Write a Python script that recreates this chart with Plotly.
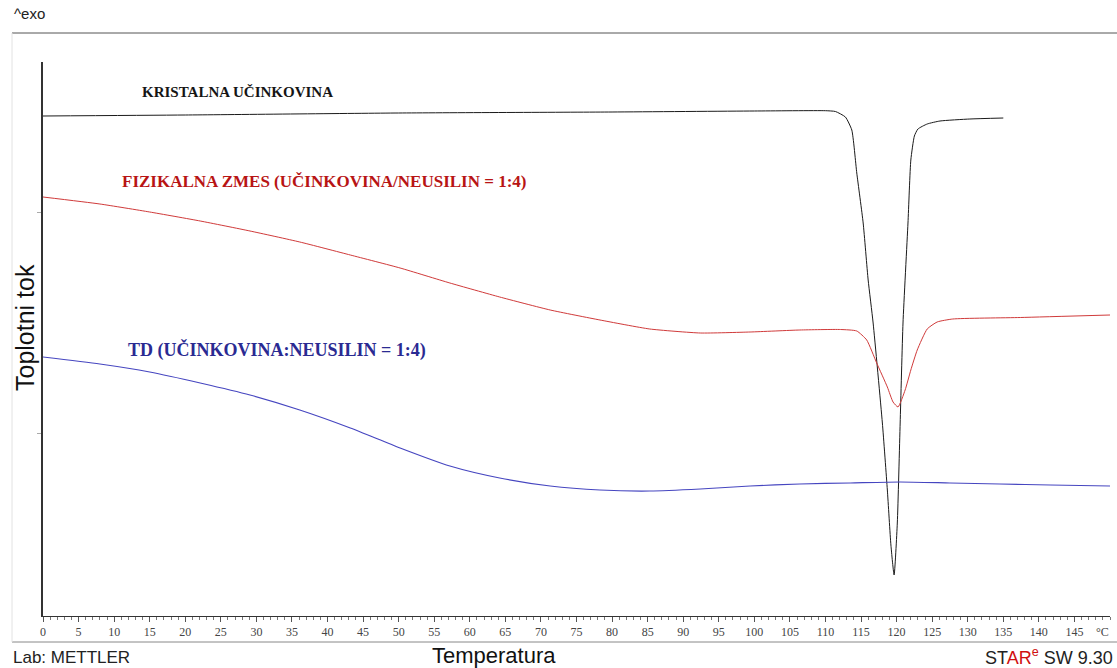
import plotly.graph_objects as go

# ---- data (temperature in °C, heat flow in arbitrary units) ----
t_kristal = [0, 20, 50, 80, 100, 110, 111.4, 112.8, 113.7, 114.4, 115.3, 116.0, 116.7, 118.0,
             118.7, 119.2, 119.65, 120.1, 120.5, 120.9, 121.6, 122.0, 122.5, 123.0, 124.3,
             126.1, 130.3, 135.0]
hf_kristal = [500, 501, 503, 504, 505, 505.3, 504.5, 499, 486, 443, 393, 336, 293, 193,
              126, 71, 41, 93, 193, 293, 393, 456, 480, 487, 492,
              495, 497, 498]

t_zmes = [0, 8.0, 15.0, 22.1, 29.1, 36.1, 43.2, 50.2, 57.2, 64.2, 71.3, 78.3, 85.3, 92.4,
          99.4, 106.4, 112.1, 114.4, 115.8, 117.2, 118.7, 119.5, 120.2, 121.2, 122.0, 122.9,
          124.3, 125.7, 127.9, 137.4, 150.0]
hf_zmes = [419, 412, 404, 395, 385, 374, 361, 348, 333, 319, 306, 296, 287, 283,
           284, 286, 286.5, 285, 276, 253, 229, 214, 209, 226, 246, 266,
           287, 294, 297, 298.5, 301]

t_td = [0, 8.0, 15.0, 22.1, 29.1, 36.1, 43.2, 50.2, 57.2, 64.2, 71.3, 78.3, 85.3, 92.4,
        99.4, 106.4, 113.5, 120.5, 127.5, 134.5, 141.6, 150.0]
hf_td = [259, 252, 244, 233, 221, 206, 188, 168, 150, 138, 130, 126, 125, 127,
         130, 132, 133, 134, 133, 132, 131, 130]

x_ticks = list(range(0, 150, 5))
x_tick_labels = [str(v) for v in x_ticks]
y_ticks = [183, 404]

label_kristal = "KRISTALNA UČINKOVINA"
label_zmes = "FIZIKALNA ZMES (UČINKOVINA/NEUSILIN = 1:4)"
label_td = "TD (UČINKOVINA:NEUSILIN = 1:4)"

# ---- layout geometry ----
W, H = 1117, 668
L, R, T, B = 43, 7, 62, 52
PW, PH = W - L - R, H - T - B


def px(x):
    return (x - L) / PW


def py(y):
    return (H - B - y) / PH


fig = go.Figure()
fig.add_trace(go.Scatter(x=t_kristal, y=hf_kristal, mode="lines",
                         line=dict(color="#1a1a1a", width=1, shape="spline", smoothing=0.5),
                         showlegend=False, hoverinfo="skip"))
fig.add_trace(go.Scatter(x=t_zmes, y=hf_zmes, mode="lines",
                         line=dict(color="#d03a3a", width=1, shape="spline", smoothing=0.5),
                         showlegend=False, hoverinfo="skip"))
fig.add_trace(go.Scatter(x=t_td, y=hf_td, mode="lines",
                         line=dict(color="#4646c0", width=1.2, shape="spline", smoothing=0.6),
                         showlegend=False, hoverinfo="skip"))

serif = "Liberation Serif, Times New Roman, serif"
sans = "Liberation Sans, Arial, sans-serif"

annots = [
    dict(text="^exo", x=px(12), y=py(13), xanchor="left", yanchor="middle",
         font=dict(family=sans, size=15, color="#222")),
    dict(text="<b>" + label_kristal + "</b>", x=px(140), y=py(92), xanchor="left", yanchor="middle",
         font=dict(family=serif, size=15, color="#151515")),
    dict(text="<b>" + label_zmes + "</b>", x=px(120), y=py(181), xanchor="left", yanchor="middle",
         font=dict(family=serif, size=17, color="#b81414")),
    dict(text="<b>" + label_td + "</b>", x=px(126), y=py(350), xanchor="left", yanchor="middle",
         font=dict(family=serif, size=18, color="#2a2a92")),
    dict(text="Toplotni tok", x=px(25), y=py(328), xanchor="center", yanchor="middle",
         textangle=-90, font=dict(family=sans, size=25, color="#111")),
    dict(text="Temperatura", x=px(494), y=py(655), xanchor="center", yanchor="middle",
         font=dict(family=sans, size=22, color="#111")),
    dict(text="Lab: METTLER", x=px(11), y=py(657), xanchor="left", yanchor="middle",
         font=dict(family=sans, size=17, color="#222")),
    dict(text="ST<span style='color:#d01010'>AR<sup>e</sup></span> SW 9.30", x=px(1115), y=py(656),
         xanchor="right", yanchor="middle", font=dict(family=sans, size=18, color="#222")),
    dict(text="°C", x=px(1102), y=py(632), xanchor="center", yanchor="middle",
         font=dict(family=serif, size=12, color="#444")),
]
for a in annots:
    a.update(xref="paper", yref="paper", showarrow=False)

shapes = [
    dict(type="line", xref="paper", yref="paper", x0=px(12), x1=px(1117), y0=py(33), y1=py(33),
         line=dict(color="#555", width=1)),
    dict(type="line", xref="paper", yref="paper", x0=px(12), x1=px(1117), y0=py(642), y1=py(642),
         line=dict(color="#888", width=1)),
    dict(type="line", xref="paper", yref="paper", x0=px(12), x1=px(12), y0=py(33), y1=py(642),
         line=dict(color="#e2e2e2", width=1)),
]

fig.update_layout(
    width=W, height=H,
    margin=dict(l=L, r=R, t=T, b=B),
    paper_bgcolor="white", plot_bgcolor="white",
    annotations=annots, shapes=shapes,
    xaxis=dict(range=[0, 150], showgrid=False, zeroline=False,
               showline=True, linecolor="#333", linewidth=1,
               tickmode="array", tickvals=x_ticks, ticktext=x_tick_labels,
               ticks="outside", ticklen=5, tickcolor="#555", tickwidth=1,
               minor=dict(dtick=1, ticks="outside", ticklen=3, tickcolor="#777"),
               tickfont=dict(family=serif, size=12, color="#444")),
    yaxis=dict(range=[0, 554], showgrid=False, zeroline=False,
               showline=True, linecolor="#333", linewidth=1.5,
               tickmode="array", tickvals=y_ticks, showticklabels=False,
               ticks="outside", ticklen=4, tickcolor="#aaa"),
)

fig.write_html("out.html")
